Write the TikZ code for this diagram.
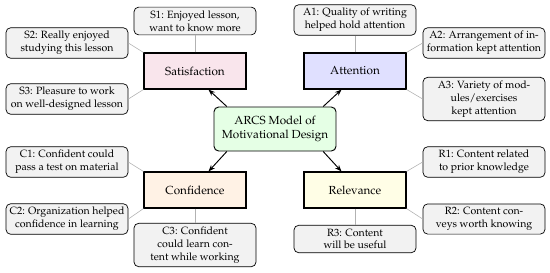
\documentclass[tikz,border=0pt]{standalone}
\usepackage[T1]{fontenc}
\usepackage{mathpazo}
\usepackage{xcolor}
\usepackage{tikz}
\usetikzlibrary{arrows.meta}
\tikzset{
  core/.style={draw, thick, rounded corners, fill=green!10, minimum height=13.2mm, minimum width=36.6mm, font=\normalsize, align=center, inner sep=2pt},
  cat/.style={draw, line width=0.9pt, minimum height=10.8mm, minimum width=30.6mm, font=\normalsize, align=center},
  leaf/.style={draw, line width=0.6pt, rounded corners, fill=gray!10, minimum width=36.6mm, font=\small, align=center, inner sep=3pt},
  flow/.style={-{Stealth[length=2mm]}, thick},
  link/.style={draw=gray!60, line width=0.5pt},
}
\begin{document}
\begin{tikzpicture}[x=0.3mm, y=-0.3mm]
\useasboundingbox (0,0) rectangle (550,272);
\node[core] (arcs) at (275,129) {ARCS Model of\\Motivational Design};
\node[cat, fill=purple!10] (sat)  at (195,71)  {Satisfaction};
\node[cat, fill=blue!12]   (att)  at (355,71)  {Attention};
\node[cat, fill=orange!10] (conf) at (195,190) {Confidence};
\node[cat, fill=yellow!10] (rel)  at (355,190) {Relevance};
% satisfaction items
\node[leaf] (s1) at (195,21)  {S1: Enjoyed lesson,\\want to know more};
\node[leaf] (s2) at (67,43)   {S2: Really enjoyed\\studying this lesson};
\node[leaf] (s3) at (67,99)   {S3: Pleasure to work\\on well-designed lesson};
% attention items
\node[leaf] (a1) at (355,20)  {A1: Quality of writing\\helped hold attention};
\node[leaf] (a2) at (484,43)  {A2: Arrangement of in-\\formation kept attention};
\node[leaf] (a3) at (484,99)  {A3: Variety of mod-\\ules/exercises\\kept attention};
% confidence items
\node[leaf] (c1) at (67,162)  {C1: Confident could\\pass a test on material};
\node[leaf] (c2) at (67,219)  {C2: Organization helped\\confidence in learning};
\node[leaf] (c3) at (195,245) {C3: Confident\\could learn con-\\tent while working};
% relevance items
\node[leaf] (r1) at (484,162) {R1: Content related\\to prior knowledge};
\node[leaf] (r2) at (484,219) {R2: Content con-\\veys worth knowing};
\node[leaf] (r3) at (355,239) {R3: Content\\will be useful};
\draw[flow] (arcs.155) -- (sat.-54);
\draw[flow] (arcs.25) -- (att.-126);
\draw[flow] (arcs.205) -- (conf.54);
\draw[flow] (arcs.-25) -- (rel.126);
\draw[link] (sat.north) -- (s1.south);
\draw[link] (sat.north west) -- (s2.east);
\draw[link] (sat.south west) -- (s3.east);
\draw[link] (att.north) -- (a1.south);
\draw[link] (att.north east) -- (a2.west);
\draw[link] (att.south east) -- (a3.west);
\draw[link] (conf.north west) -- (c1.east);
\draw[link] (conf.south west) -- (c2.east);
\draw[link] (conf.south) -- (c3.north);
\draw[link] (rel.north east) -- (r1.west);
\draw[link] (rel.south east) -- (r2.west);
\draw[link] (rel.south) -- (r3.north);
\end{tikzpicture}
\end{document}
